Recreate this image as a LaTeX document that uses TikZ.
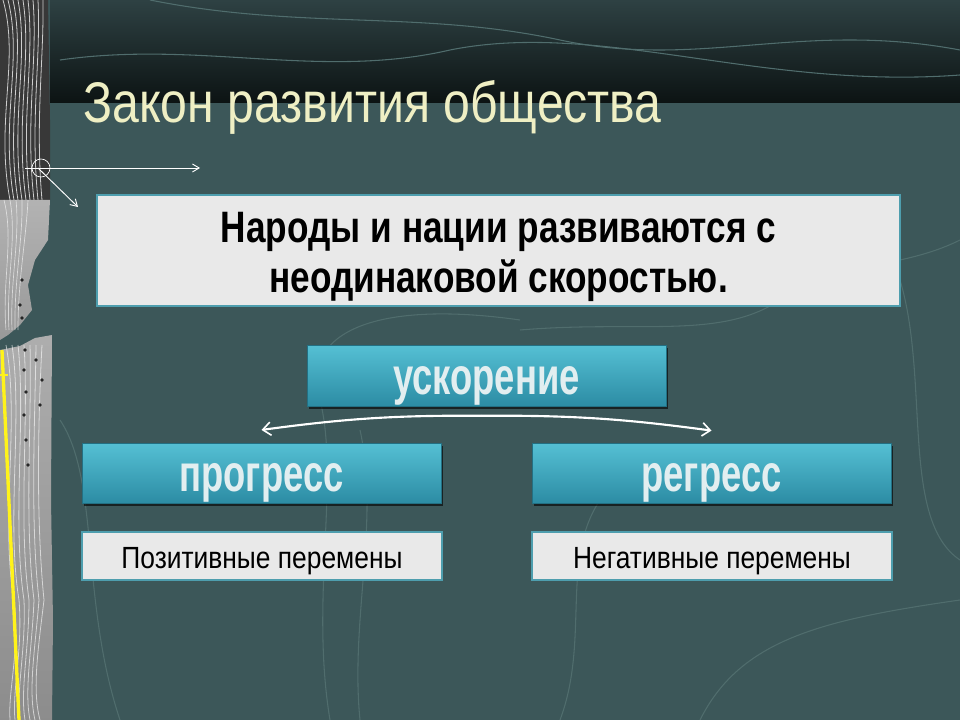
\documentclass[tikz,border=0pt]{standalone}
\usepackage{fontspec}
\setmainfont{Liberation Sans}
\newfontfamily\titlef[FakeStretch=0.84]{Liberation Sans}
\newfontfamily\nar[FakeStretch=0.8]{Liberation Sans}
\newfontfamily\blf[FakeStretch=0.7]{Liberation Sans}
\newfontfamily\smf[FakeStretch=0.86]{Liberation Sans}
\usetikzlibrary{arrows.meta,shadows}
\definecolor{bgc}{HTML}{3C5759}
\definecolor{bandtop}{HTML}{2E4143}
\definecolor{bandbot}{HTML}{0C1313}
\definecolor{titlec}{HTML}{EFEFC4}
\definecolor{boxfill}{HTML}{E9E9E9}
\definecolor{boxline}{HTML}{4E9EAE}
\definecolor{bluetop}{HTML}{55C0D4}
\definecolor{bluebot}{HTML}{2C8CA4}
\definecolor{bluetext}{HTML}{E2EEF0}
\definecolor{contour}{HTML}{506D6D}
\tikzset{
  whitebox/.style={draw=boxline, line width=2.2pt, fill=boxfill, inner sep=0pt, align=center},
  bluebox/.style={draw=bluebot!80!black, line width=0.6pt, top color=bluetop, bottom color=bluebot,
     minimum width=269.25pt, minimum height=45pt, inner sep=0pt, text height=30pt, text depth=2pt,
     drop shadow={shadow xshift=1.5pt, shadow yshift=-2pt, opacity=0.6, fill=black},
     font=\blf\fontsize{39}{42}\selectfont\bfseries, text=bluetext},
  smallbox/.style={whitebox, line width=2pt, minimum width=270pt, minimum height=36pt,
     text height=18pt, text depth=0pt,
     font=\smf\fontsize{23}{26}\selectfont, text=black},
  conn/.style={draw=white, line width=1.6pt, -{Straight Barb[length=6pt,width=10pt,line width=1.2pt]}},
  deco/.style={draw=white, line width=0.7pt},
  cline/.style={draw=contour, line width=0.8pt}
}
\begin{document}
\begin{tikzpicture}[x=0.75pt,y=-0.75pt]
\useasboundingbox (0,0) rectangle (960,720);
% background
\fill[bgc] (0,0) rectangle (960,720);
\shade[top color=bandtop, bottom color=bandbot] (50,0) rectangle (960,103);
% faint contour lines
\draw[cline] (150,0) .. controls (300,30) and (420,10) .. (560,40) .. controls (700,70) and (800,20) .. (960,50);
\draw[cline] (60,60) .. controls (200,40) and (320,80) .. (450,50) .. controls (600,20) and (760,90) .. (960,75);
\draw[cline] (330,720) .. controls (310,600) and (340,480) .. (320,400) .. controls (300,330) and (380,300) .. (520,320);
\draw[cline] (360,720) .. controls (350,620) and (380,520) .. (360,430);
\draw[cline] (560,720) .. controls (590,640) and (560,560) .. (600,500);
\draw[cline] (900,280) .. controls (930,380) and (900,520) .. (960,560);
\draw[cline] (520,330) .. controls (640,320) and (720,340) .. (780,300) .. controls (840,260) and (900,270) .. (960,240);
\draw[cline] (60,420) .. controls (100,480) and (80,600) .. (120,720);
\draw[cline] (700,720) .. controls (740,640) and (820,620) .. (960,600);
% left strip
\fill[black!78] (0,0) -- (48,0) -- (50,120) -- (50,200) -- (0,200) -- cycle;
\shade[top color=black!30, bottom color=black!40] (0,200) -- (50,200) -- (48,240) -- (35,260) -- (28,285) -- (32,310) -- (20,325) -- (8,335) -- (0,340) -- cycle;
\shade[top color=black!32, bottom color=black!45] (0,350) -- (20,346) -- (35,338) -- (52,335) -- (51,500) -- (53,620) -- (52,720) -- (0,720) -- cycle;
\foreach \i in {0,...,8}{
  \draw[white, line width=0.6pt, opacity=0.75] (3+5*\i,0) .. controls (20+3*\i,60) and (-5+5*\i,120) .. (10+4*\i,200);
}
\foreach \i in {0,...,4}{
  \draw[white, line width=0.5pt, opacity=0.6] (4+6*\i,200) .. controls (14+3*\i,240) and (2+4*\i,280) .. (6+3*\i,330);
}
\foreach \i in {0,...,6}{
  \draw[white, line width=0.6pt, opacity=0.6] (6+6*\i,345) .. controls (20+3*\i,420) and (0+6*\i,520) .. (14+5*\i,600) .. controls (20+3*\i,650) and (8+4*\i,690) .. (10+5*\i,720);
}
\foreach \x/\y in {22/280,20/305,22/318,25/350,24/370,26/392,24/415,26/440,28/465,36/360,42/380,40/405}{ \fill[black!85] (\x,\y) circle (1.8); }
\draw[yellow!90!white, line width=2.5pt] (2,350) -- (19,720);
\draw[yellow!90!white, line width=2pt] (0,375) -- (8,375);
% top-left decorative arrows
\coordinate (dh0) at (25,168);
\coordinate (dh1) at (200,168);
\coordinate (dd0) at (38,168);
\coordinate (dd1) at (78,207);
\draw[deco, -{Straight Barb[length=5pt,width=6pt]}] (dh0) -- (dh1);
\draw[deco, -{Straight Barb[length=5pt,width=6pt]}] (dd0) -- (dd1);
\draw[deco, line width=0.5pt] (41,168) circle (9);
% title
\node[anchor=base west, text=titlec, font=\titlef\fontsize{43}{46}\selectfont, inner sep=0pt] (title) at (83,123) {Закон развития общества};
% main box
\node[whitebox, minimum width=602.25pt, minimum height=83.25pt, text height=62.25pt, text depth=0pt,
      font=\nar\fontsize{33}{36.75}\selectfont\bfseries] (main) at (498.5,250.5) {Народы и нации развиваются с\\неодинаковой скоростью.};
% blue boxes
\node[bluebox, minimum height=45.75pt] (usk) at (486.5,375.5) {ускорение};
\node[bluebox] (prog) at (261.5,473) {прогресс};
\node[bluebox] (regr) at (711.5,473) {регресс};
% small boxes
\node[smallbox] (pos) at (262,556) {Позитивные перемены};
\node[smallbox] (neg) at (712,556) {Негативные перемены};
% connectors
\coordinate (apex) at ([xshift=-4pt,yshift=-7pt]usk.south);
\coordinate (ltip) at ([yshift=9.5pt]prog.north);
\coordinate (rtip) at ([yshift=9pt]regr.north);
\draw[conn] (apex) to[bend right=4] (ltip);
\draw[conn] (apex) to[bend left=4] (rtip);
\end{tikzpicture}
\end{document}
